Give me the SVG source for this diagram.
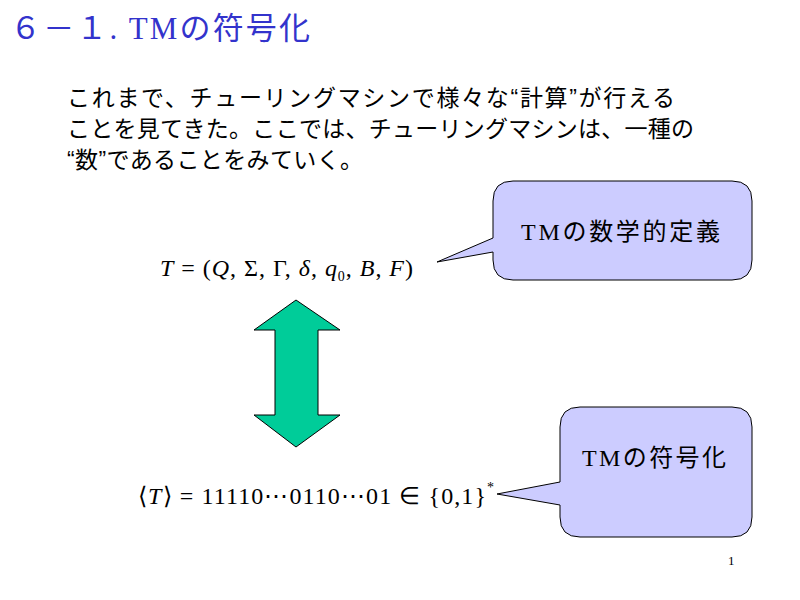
<svg xmlns="http://www.w3.org/2000/svg" width="800" height="600" viewBox="0 0 800 600">
<style>
.jp{font-family:"Liberation Sans","Noto Sans CJK JP",sans-serif;font-size:23px;fill:#000}
.m{font-family:"Liberation Serif",serif;font-size:24px;fill:#000}
.call{fill:#ccccff;stroke:#000;stroke-width:1}
.ct{font-family:"Liberation Serif","Noto Sans CJK JP",serif;font-size:24px;fill:#000}
</style>
<rect width="800" height="600" fill="#fff"/>
<text x="10" y="39" textLength="300" style="font-family:'Liberation Serif','Noto Sans CJK JP',serif;font-size:31px;fill:#3333cc">６－１. TMの符号化</text>
<text class="jp" x="67" y="106" textLength="608">これまで、チューリングマシンで様々な“計算”が行える</text>
<text class="jp" x="67" y="137" textLength="627">ことを見てきた。ここでは、チューリングマシンは、一種の</text>
<text class="jp" x="67" y="168" textLength="296">“数”であることをみていく。</text>
<g id="callout1">
<path class="call" d="M513,181 H732 Q752,181 752,201 V260 Q752,280 732,280 H513 Q493,280 493,260 V252 L437,262 L493,238 V201 Q493,181 513,181 Z"/>
<text class="ct" x="521" y="240" textLength="199">TMの数学的定義</text>
</g>
<g id="callout2">
<path class="call" d="M580,407 H732 Q752,407 752,427 V517 Q752,537 732,537 H580 Q560,537 560,517 V505 L497,494 L560,482 V427 Q560,407 580,407 Z"/>
<text class="ct" x="582" y="466" textLength="144">TMの符号化</text>
</g>
<g id="formula1">
<text class="m" x="160" y="276" textLength="253"><tspan font-style="italic">T</tspan> = (<tspan font-style="italic">Q</tspan>, Σ, Γ, <tspan font-style="italic">δ</tspan>, <tspan font-style="italic">q</tspan><tspan font-size="14" dy="5">0</tspan><tspan dy="-5">, </tspan><tspan font-style="italic">B</tspan>, <tspan font-style="italic">F</tspan>)</text>
</g>
<g id="formula2">
<text class="m" x="138" y="504" textLength="348">⟨<tspan font-style="italic">T</tspan>⟩ = 11110⋯0110⋯01 ∈ {0,1}</text>
<text x="487" y="492" style="font-family:'Liberation Serif',serif;font-size:14px">*</text>
</g>
<g id="connectors">
<path d="M296,300 L340,330 H318 V415 H340 L296,447 L254,415 H275 V330 H254 Z" fill="#00cc99" stroke="#000" stroke-width="1"/>
</g>
<text x="728" y="565" style="font-family:'Liberation Serif',serif;font-size:13px">1</text>
</svg>
